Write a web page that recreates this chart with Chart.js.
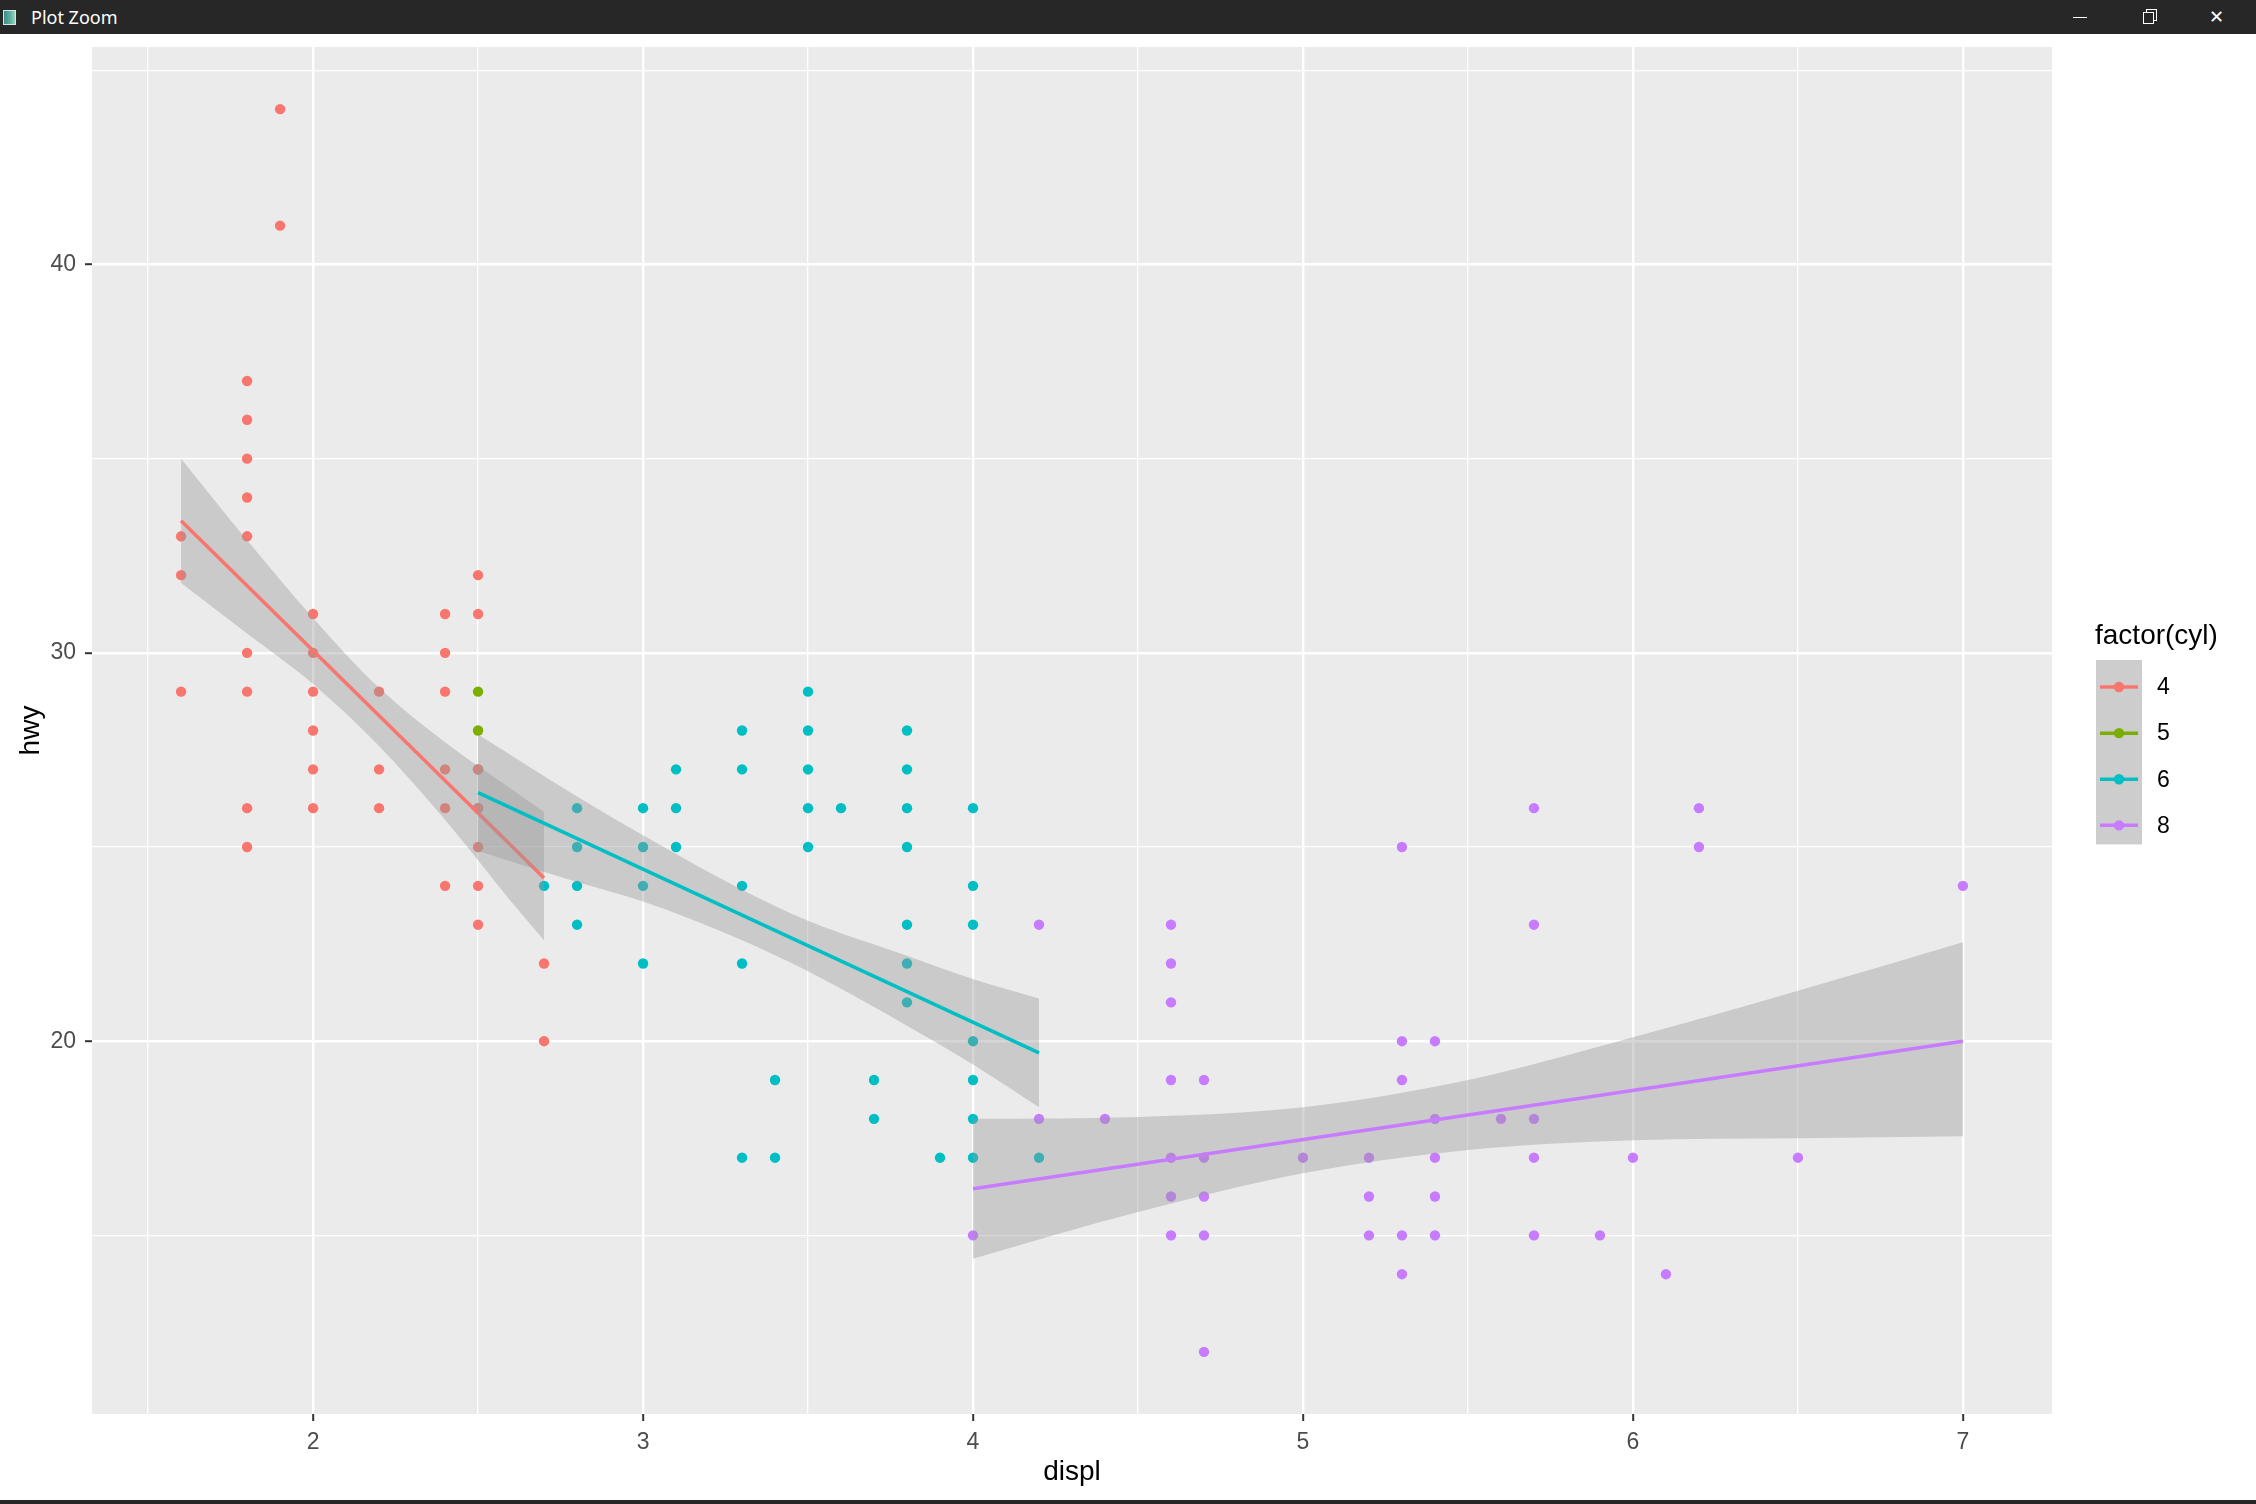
<!DOCTYPE html>
<html>
<head>
<meta charset="utf-8">
<script src="https://cdn.jsdelivr.net/npm/chart.js@4.4.1/dist/chart.umd.min.js"></script>
<style>
html,body{margin:0;padding:0;background:#ffffff;width:2256px;height:1504px;overflow:hidden;}
#titlebar{position:absolute;left:0;top:0;width:2256px;height:34px;background:#272727;}
#appicon{position:absolute;left:3px;top:10px;width:11px;height:13px;border:1px solid #d8e4e4;background:linear-gradient(90deg,#3d8c8c 0%,#5fb3a0 60%,#9fd0c0 100%);}
#wintitle{position:absolute;left:31px;top:0;height:34px;line-height:34px;color:#ffffff;font-family:"Noto Sans",sans-serif;font-size:18px;}
#wmin{position:absolute;left:2073px;top:17px;width:14px;height:1px;background:#ffffff;}
#wres1{position:absolute;left:2146px;top:9px;width:9px;height:10px;border:1px solid #ffffff;}
#wres2{position:absolute;left:2143px;top:12px;width:9px;height:10px;border:1px solid #ffffff;background:#272727;}
#wclose{position:absolute;left:2209px;top:0;height:34px;line-height:34px;color:#ffffff;font-family:"DejaVu Sans",sans-serif;font-size:18px;}
#wrap{position:absolute;left:0;top:33px;width:2256px;height:1469px;}
#bottombar{position:absolute;left:0;top:1500px;width:2256px;height:4px;background:#272727;}
</style>
</head>
<body>
<div id="titlebar">
  <div id="appicon"></div>
  <div id="wintitle">Plot Zoom</div>
  <div id="wmin"></div>
  <div id="wres1"></div><div id="wres2"></div>
  <div id="wclose">✕</div>
</div>
<div id="wrap"><canvas id="c" width="2256" height="1469"></canvas></div>
<div id="bottombar"></div>
<script>
// ---------- data ----------
const cylLevels = ['4', '5', '6', '8'];
const legendTitle = 'factor(cyl)';
const xAxisTitle = 'displ';
const yAxisTitle = 'hwy';

const displ4 = [1.6,1.6,1.6, 1.8,1.8,1.8,1.8,1.8,1.8,1.8,1.8,1.8, 1.9,1.9, 2.0,2.0,2.0,2.0,2.0,2.0, 2.2,2.2,2.2, 2.4,2.4,2.4,2.4,2.4,2.4, 2.5,2.5,2.5,2.5,2.5,2.5,2.5, 2.7,2.7];
const hwy4   = [33,32,29, 37,36,35,34,33,30,29,26,25, 44,41, 31,30,29,28,27,26, 29,27,26, 31,30,29,27,26,24, 32,31,27,26,25,24,23, 22,20];

const displ5 = [2.5, 2.5];
const hwy5   = [29, 28];

const displ6 = [2.5,2.5, 2.7, 2.8,2.8,2.8,2.8, 3.0,3.0,3.0,3.0, 3.1,3.1,3.1, 3.3,3.3,3.3,3.3,3.3, 3.4,3.4, 3.5,3.5,3.5,3.5,3.5, 3.6, 3.7,3.7, 3.8,3.8,3.8,3.8,3.8,3.8,3.8, 3.9, 4.0,4.0,4.0,4.0,4.0,4.0,4.0, 4.2];
const hwy6   = [27,26, 24, 26,25,24,23, 26,25,24,22, 27,26,25, 28,27,24,22,17, 19,17, 29,28,27,26,25, 26, 19,18, 28,27,26,25,23,22,21, 17, 26,24,23,20,19,18,17, 17];

const displ8 = [4.0, 4.2,4.2, 4.4, 4.6,4.6,4.6,4.6,4.6,4.6,4.6, 4.7,4.7,4.7,4.7,4.7, 5.0, 5.2,5.2,5.2, 5.3,5.3,5.3,5.3,5.3, 5.4,5.4,5.4,5.4,5.4, 5.6, 5.7,5.7,5.7,5.7,5.7, 5.9, 6.0, 6.1, 6.2,6.2, 6.5, 7.0];
const hwy8   = [15, 23,18, 18, 23,22,21,19,17,16,15, 19,17,16,15,12, 17, 17,16,15, 25,20,19,15,14, 20,18,17,16,15, 18, 26,23,18,17,15, 15, 17, 14, 26,25, 17, 24];

// fitted lines (end points) and confidence bands
const fitX4 = [1.6, 2.7];  const fitY4 = [33.4, 24.2];
const fitX6 = [2.5, 4.2];  const fitY6 = [26.4, 19.7];
const fitX8 = [4.0, 7.0];  const fitY8 = [16.2, 20.0];

const bandX4  = [1.6, 1.8, 2.0, 2.2, 2.4, 2.6, 2.7];
const bandHi4 = [35.0, 32.9, 30.9, 29.1, 27.7, 26.5, 25.9];
const bandLo4 = [31.8, 30.5, 29.2, 27.6, 25.7, 23.6, 22.6];

const bandX6  = [2.5, 2.8, 3.0, 3.3, 3.5, 3.8, 4.0, 4.2];
const bandHi6 = [27.9, 26.3, 25.3, 23.9, 23.1, 22.2, 21.6, 21.1];
const bandLo6 = [24.9, 24.1, 23.6, 22.6, 21.8, 20.4, 19.4, 18.3];

const bandX8  = [4.0, 4.5, 5.0, 5.5, 6.0, 6.5, 7.0];
const bandHi8 = [18.0, 18.05, 18.3, 19.0, 20.1, 21.3, 22.55];
const bandLo8 = [14.4, 15.6, 16.6, 17.2, 17.45, 17.5, 17.55];

// axis breaks
const xMajorBreaks = [2, 3, 4, 5, 6, 7];
const xMinorBreaks = [1.5, 2.5, 3.5, 4.5, 5.5, 6.5];
const yMajorBreaks = [20, 30, 40];
const yMinorBreaks = [15, 25, 35, 45];

// ---------- styling ----------
const cylColors = {'4': '#F8766D', '5': '#7CAE00', '6': '#00BFC4', '8': '#C77CFF'};
const ribbonFill = 'rgba(153,153,153,0.4)';
const FONT = '"Liberation Sans", Arial, sans-serif';
const PAGE_TOP = 33;

const zip = (xs, ys) => xs.map((x, i) => ({x: x, y: ys[i]}));

function pointSet(label, xs, ys, order) {
  return {label: label, data: zip(xs, ys), showLine: false, pointRadius: 5.2, pointHoverRadius: 5.2,
    pointBackgroundColor: cylColors[label], pointBorderWidth: 0, borderColor: cylColors[label], order: order};
}
function bandSets(label, xs, hi, lo, order) {
  return [
    {label: label + ' band', data: zip(xs, hi), fill: '+1', backgroundColor: ribbonFill,
     borderColor: 'transparent', borderWidth: 0, pointRadius: 0, cubicInterpolationMode: 'monotone', order: order},
    {label: label + ' band lo', data: zip(xs, lo), fill: false,
     borderColor: 'transparent', borderWidth: 0, pointRadius: 0, cubicInterpolationMode: 'monotone', order: 99}
  ];
}
function fitSet(label, xs, ys, order) {
  return {label: label + ' fit', data: zip(xs, ys), fill: false, borderColor: cylColors[label],
    borderWidth: 3.5, pointRadius: 0, tension: 0, order: order};
}

const datasets = [
  pointSet('8', displ8, hwy8, 60),
  pointSet('6', displ6, hwy6, 59),
  pointSet('5', displ5, hwy5, 58),
  pointSet('4', displ4, hwy4, 57),
  ...bandSets('4', bandX4, bandHi4, bandLo4, 50),
  fitSet('4', fitX4, fitY4, 49),
  ...bandSets('6', bandX6, bandHi6, bandLo6, 48),
  fitSet('6', fitX6, fitY6, 47),
  ...bandSets('8', bandX8, bandHi8, bandLo8, 46),
  fitSet('8', fitX8, fitY8, 45)
];

const panelBg = {
  id: 'panelBg',
  beforeDraw(chart) {
    const a = chart.chartArea, ctx = chart.ctx;
    ctx.save();
    ctx.fillStyle = '#EBEBEB';
    ctx.fillRect(a.left, a.top, a.right - a.left, a.bottom - a.top);
    ctx.restore();
  }
};

const ggLegend = {
  id: 'ggLegend',
  afterDraw(chart) {
    const ctx = chart.ctx;
    ctx.save();
    ctx.fillStyle = '#000000';
    ctx.font = '28px ' + FONT;
    ctx.textBaseline = 'alphabetic';
    ctx.textAlign = 'left';
    ctx.fillText(legendTitle, 2095, 644 - PAGE_TOP);
    const boxTop = 660 - PAGE_TOP, keyTop = 664 - PAGE_TOP, keyH = 46.1, keyL = 2096, keyW = 46;
    const levels = cylLevels;
    ctx.fillStyle = '#CDCDCD';
    ctx.fillRect(keyL, boxTop, keyW, keyH * levels.length);
    levels.forEach((lv, i) => {
      const cy = keyTop + keyH * (i + 0.5);
      ctx.strokeStyle = cylColors[lv];
      ctx.lineWidth = 3.5;
      ctx.beginPath(); ctx.moveTo(keyL + 4, cy); ctx.lineTo(keyL + keyW - 4, cy); ctx.stroke();
      ctx.fillStyle = cylColors[lv];
      ctx.beginPath(); ctx.arc(keyL + keyW / 2, cy, 5.2, 0, Math.PI * 2); ctx.fill();
      ctx.fillStyle = '#000000';
      ctx.font = '23px ' + FONT;
      ctx.textBaseline = 'middle';
      ctx.fillText(lv, 2157, cy + 1);
    });
    ctx.restore();
  }
};

const isIn = (arr, v) => arr.some(a => Math.abs(a - v) < 1e-9);
const noPad = s => { s.paddingTop = 0; s.paddingBottom = 0; s.paddingLeft = 0; s.paddingRight = 0; };

new Chart(document.getElementById('c'), {
  type: 'line',
  data: {datasets: datasets},
  plugins: [panelBg, ggLegend],
  options: {
    responsive: false,
    animation: false,
    events: [],
    layout: {padding: {top: 14, right: 204, left: 0, bottom: 0}},
    plugins: {legend: {display: false}, tooltip: {enabled: false}},
    scales: {
      x: {
        type: 'linear', min: 1.33, max: 7.27,
        afterBuildTicks: s => { s.ticks = [...xMinorBreaks, ...xMajorBreaks].sort((a, b) => a - b).map(v => ({value: v})); },
        afterFit: s => { s.height = 88; noPad(s); },
        border: {display: false},
        grid: {
          color: '#FFFFFF',
          lineWidth: c => (c.tick && isIn(xMajorBreaks, c.tick.value)) ? 2.4 : 1.3,
          drawTicks: true, tickLength: 7,
          tickColor: c => (c.tick && isIn(xMajorBreaks, c.tick.value)) ? '#333333' : 'rgba(0,0,0,0)',
          tickWidth: 2
        },
        ticks: {
          autoSkip: false, maxRotation: 0, minRotation: 0, padding: 8, color: '#4D4D4D',
          font: {family: FONT, size: 23},
          callback: v => isIn(xMajorBreaks, v) ? String(v) : ''
        },
        title: {display: true, text: xAxisTitle, color: '#000000', font: {family: FONT, size: 28}, padding: {top: 0, bottom: 13}}
      },
      y: {
        type: 'linear', min: 10.4, max: 45.6,
        afterBuildTicks: s => { s.ticks = [...yMinorBreaks, ...yMajorBreaks].sort((a, b) => a - b).map(v => ({value: v})); },
        afterFit: s => { s.width = 92; noPad(s); },
        border: {display: false},
        grid: {
          color: '#FFFFFF',
          lineWidth: c => (c.tick && isIn(yMajorBreaks, c.tick.value)) ? 2.4 : 1.3,
          drawTicks: true, tickLength: 7,
          tickColor: c => (c.tick && isIn(yMajorBreaks, c.tick.value)) ? '#333333' : 'rgba(0,0,0,0)',
          tickWidth: 2
        },
        ticks: {
          autoSkip: false, padding: 9, color: '#4D4D4D',
          font: {family: FONT, size: 23},
          callback: v => isIn(yMajorBreaks, v) ? String(v) : ''
        },
        title: {display: true, text: yAxisTitle, color: '#000000', font: {family: FONT, size: 28}, padding: {top: 14, bottom: 0}}
      }
    }
  }
});
</script>
</body>
</html>
